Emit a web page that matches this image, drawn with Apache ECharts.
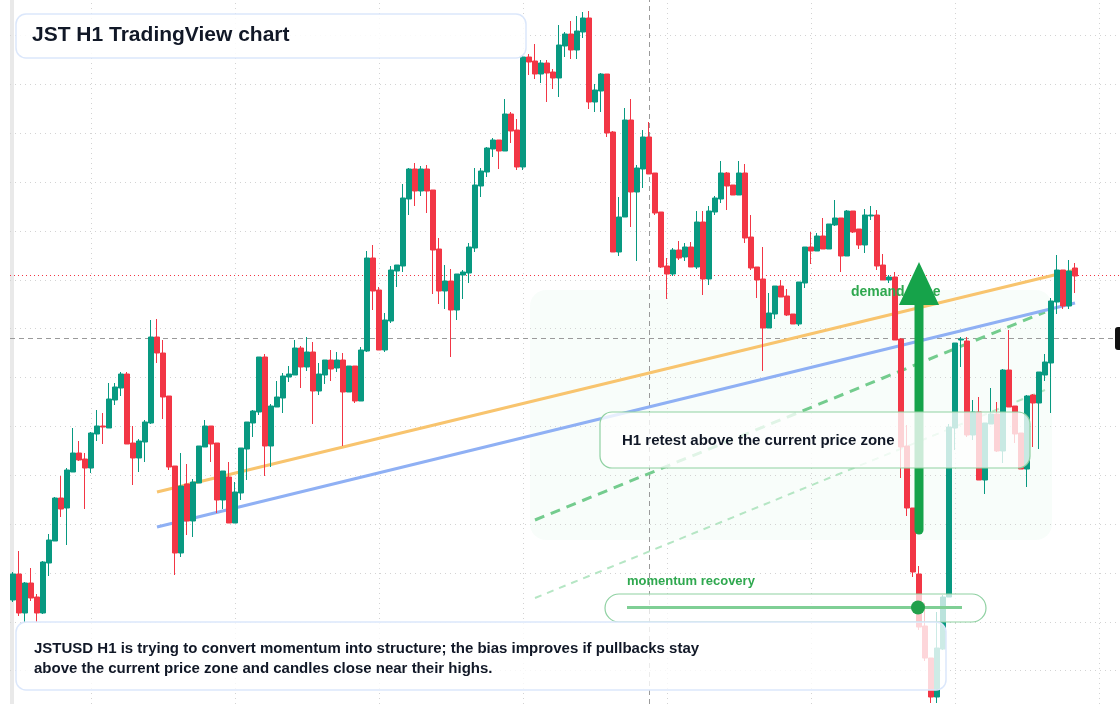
<!DOCTYPE html>
<html><head><meta charset="utf-8">
<script src="https://cdn.jsdelivr.net/npm/echarts@6/dist/echarts.min.js"></script>
<style>html,body{margin:0;padding:0;background:#fff}#c{width:1120px;height:704px}</style>
</head><body><div id="c"></div>
<script>
const opens=[120,146,107,137,123,107,157,179,222,212,248,267,261,252,286,294,292,320,332,346,277,262,278,297,383,367,324,254,167,236,199,237,273,294,277,220,243,197,227,271,297,308,363,274,313,322,343,345,372,353,368,329,345,360,352,360,328,354,319,369,462,430,370,399,449,454,521,551,529,551,530,471,429,439,410,445,447,472,534,548,571,580,569,606,590,553,663,659,646,657,648,642,674,686,670,688,702,618,629,646,588,468,503,600,528,551,583,547,508,454,446,470,463,473,453,498,441,508,521,547,535,525,547,483,453,441,392,406,434,424,406,396,437,473,469,484,471,495,502,464,509,491,475,504,505,455,440,443,381,274,212,146,94,62,23,71,123,292,380,379,285,308,240,296,306,269,350,314,287,251,325,317,345,357,418,450,414,452];
const closes=[146,107,137,122,107,158,180,222,211,250,267,260,252,287,294,293,321,333,346,276,262,279,298,383,367,323,253,167,234,199,238,274,294,276,220,249,197,228,272,298,309,363,274,314,323,344,346,372,353,368,329,346,360,351,360,328,354,319,370,462,429,370,400,450,455,522,551,529,551,529,470,429,439,410,446,448,473,535,549,572,580,569,606,589,553,663,658,646,657,647,642,675,686,670,689,702,618,630,646,587,468,503,600,528,552,583,546,507,453,446,470,462,473,453,498,441,509,522,547,534,525,547,482,452,440,392,407,434,423,405,396,438,473,469,484,471,496,502,464,509,488,475,505,505,454,440,443,380,273,212,148,93,62,23,72,123,293,377,381,285,308,240,297,306,269,350,313,286,251,324,317,348,358,419,450,414,449,444];
const highs=[148,169,138,152,126,159,186,223,244,252,292,279,267,288,310,307,337,337,348,348,294,281,300,400,401,380,324,254,267,256,241,274,300,294,277,249,258,238,272,298,310,363,366,316,339,347,354,380,374,383,378,357,360,370,368,367,354,354,373,469,475,433,407,454,455,536,552,557,554,555,530,482,455,451,446,450,477,552,552,573,582,580,621,608,601,665,666,676,660,660,651,695,688,699,704,708,709,636,647,646,589,523,612,621,555,590,598,547,508,462,472,479,477,478,509,509,514,524,559,548,535,559,556,505,453,473,427,434,440,431,406,438,473,488,487,502,496,520,502,510,509,491,511,514,510,466,445,448,382,295,212,154,117,62,108,125,296,377,383,383,320,323,297,332,318,351,390,314,287,325,326,348,366,422,465,450,460,457];
const lows=[118,104,98,119,98,106,144,179,203,175,248,259,211,247,279,276,292,315,324,276,235,248,258,296,357,301,250,145,163,185,183,237,273,258,207,211,197,197,220,240,283,305,244,253,313,307,338,345,332,349,296,325,336,339,348,274,328,317,319,368,410,370,368,397,433,448,505,514,524,507,426,416,411,363,400,421,437,468,523,543,563,551,569,577,550,550,645,641,637,618,631,623,663,661,661,682,611,608,608,583,468,464,503,493,459,532,546,505,452,421,444,460,459,453,451,425,435,505,517,510,525,525,477,450,422,349,392,401,423,404,396,394,432,456,469,471,471,494,448,464,487,471,467,500,450,440,437,380,242,204,143,90,59,17,17,70,123,270,353,283,280,240,226,296,268,257,313,277,251,233,273,271,339,307,406,411,411,427];
const N=185;
const categories=Array.from({length:N},(_,i)=>'H'+i);
const orangeTrend=[[24,228],[177,450]];
const blueTrend=[[24,193],[177,417]];
const greenDash=[[87,200],[172,408]];
const greenThin=[[87,122],[172,330]];
const redLevel=445, grayLevel=382, grayVertical=106;
const gridY=[685,636,587,538,489,440,392,343,294,245,196,147,98,50];
const gridX=[13,37,61,85,109,133,157,181];
const arrowIdx=150.8, arrowBase=190, arrowNeck=415, arrowTip=458;

const data=opens.map((o,i)=>[o,closes[i],lows[i],highs[i]]);
const chart=echarts.init(document.getElementById('c'));
const font='"Liberation Sans", Arial, sans-serif';
const dotted={color:'#d3d3d3',width:1,type:[1,4]};
const ml=[];
gridY.forEach(v=>ml.push({yAxis:v,lineStyle:dotted}));
gridX.forEach(v=>ml.push({xAxis:v,lineStyle:dotted}));
ml.push({yAxis:redLevel,lineStyle:{color:'#f23645',width:1,type:[1,3]}});
ml.push({yAxis:grayLevel,lineStyle:{color:'#9a9a9a',width:1,type:[5,4]}});
ml.push({xAxis:grayVertical,lineStyle:{color:'#9a9a9a',width:1,type:[5,4]}});
const seg=(p,ls)=>[{coord:p[0],lineStyle:ls},{coord:p[1]}];
ml.push(seg(greenThin,{color:'#b5e6c4',width:2,type:[7,6]}));
ml.push(seg(greenDash,{color:'#74cc8e',width:3,type:[10,7]}));
ml.push(seg(blueTrend,{color:'#8fb0f4',width:3,type:'solid'}));
ml.push(seg(orangeTrend,{color:'#f8c46e',width:3,type:'solid'}));

chart.setOption({
  animation:false,
  grid:{left:10,right:0,top:0,bottom:0},
  xAxis:{type:'category',data:categories,boundaryGap:true,show:false},
  yAxis:{type:'value',min:16,max:720,show:false,splitLine:{show:false}},
  graphic:[
    {type:'rect',shape:{x:10,y:0,width:4,height:704},style:{fill:'#e9e9e9'},z:-5},
    {type:'rect',shape:{x:530,y:290,width:522,height:250,r:16},style:{fill:'rgba(60,200,100,0.035)'},z:-4}
  ],
  series:[{
    type:'candlestick',data:data,barWidth:4.6,z:3,
    itemStyle:{color:'#089981',color0:'#f23645',borderColor:'#089981',borderColor0:'#f23645',borderWidth:1},
    markLine:{symbol:'none',silent:true,label:{show:false},data:ml,z:1,animation:false}
  }]
});

const pN=chart.convertToPixel({seriesIndex:0},[arrowIdx,arrowNeck]);
const pB=chart.convertToPixel({seriesIndex:0},[arrowIdx,arrowBase]);
const pT=chart.convertToPixel({seriesIndex:0},[arrowIdx,arrowTip]);
const ax=pN[0];
chart.setOption({graphic:[
  {type:'rect',shape:{x:10,y:0,width:4,height:704},style:{fill:'#e9e9e9'},z:-5},
  {type:'rect',shape:{x:530,y:290,width:522,height:250,r:16},style:{fill:'rgba(60,200,100,0.035)'},z:-4},
  {type:'text',x:851,y:285,style:{text:'demand zone',fill:'#2fa84f',font:'bold 14px '+font},z:10},
  {type:'line',shape:{x1:ax,y1:pB[1],x2:ax,y2:pN[1]},style:{stroke:'#16a34a',lineWidth:9,lineCap:'round'},z:11},
  {type:'polygon',shape:{points:[[ax,pT[1]],[ax-20,pN[1]],[ax+20,pN[1]]]},style:{fill:'#16a34a'},z:11},
  {type:'rect',shape:{x:600,y:412,width:430,height:56,r:12},style:{fill:'rgba(255,255,255,0.78)',stroke:'#8fd1a2',lineWidth:1.2},z:12},
  {type:'text',x:622,y:433,style:{text:'H1 retest above the current price zone',fill:'#111827',font:'bold 15px '+font},z:13},
  {type:'text',x:627,y:575,style:{text:'momentum recovery',fill:'#2fa84f',font:'bold 13px '+font},z:13},
  {type:'rect',shape:{x:605,y:594,width:381,height:28,r:14},style:{fill:'rgba(255,255,255,0.72)',stroke:'#8fd1a2',lineWidth:1.2},z:12},
  {type:'line',shape:{x1:627,y1:607.5,x2:962,y2:607.5},style:{stroke:'#7fcf95',lineWidth:3},z:13},
  {type:'circle',shape:{cx:918,cy:607.5,r:7},style:{fill:'#22a04b'},z:14},
  {type:'rect',shape:{x:16,y:622,width:930,height:68,r:10},style:{fill:'rgba(255,255,255,0.8)',stroke:'#dbe7fb',lineWidth:1.5},z:12},
  {type:'text',x:34,y:639,style:{text:'JSTUSD H1 is trying to convert momentum into structure; the bias improves if pullbacks stay\nabove the current price zone and candles close near their highs.',fill:'#111827',font:'bold 15px '+font,lineHeight:20},z:13},
  {type:'rect',shape:{x:16,y:14,width:510,height:44,r:10},style:{fill:'rgba(255,255,255,0.85)',stroke:'#dbe7fb',lineWidth:1.5},z:12},
  {type:'text',x:32,y:25,style:{text:'JST H1 TradingView chart',fill:'#111827',font:'bold 21px '+font},z:13},
  {type:'rect',shape:{x:1115,y:327,width:12,height:23,r:3},style:{fill:'#111'},z:13}
]});
</script></body></html>
